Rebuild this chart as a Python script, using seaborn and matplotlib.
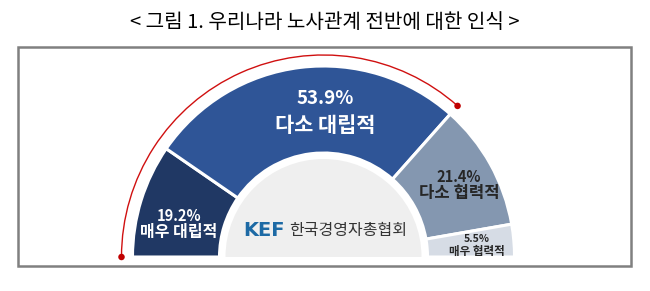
import numpy as np
import matplotlib
matplotlib.use('Agg')
import matplotlib.pyplot as plt
from matplotlib.patches import Wedge, Arc, Rectangle
import seaborn as sns

sns.set_theme(style='white')
plt.rcParams['font.family'] = ['Noto Sans CJK KR', 'DejaVu Sans']

# data
labels = ['매우 대립적', '다소 대립적', '다소 협력적', '매우 협력적']
shares = [19.2, 53.9, 21.4, 5.5]
colors = sns.color_palette(['#203864', '#2f5597', '#8497b0', '#d6dce5'])
title = '< 그림 1. 우리나라 노사관계 전반에 대한 인식 >'

# layout (pixel coords, y up)
W, H = 650, 291
cx, cy = 323.5, 34
r_out, r_in, r_disk, r_arc = 191, 104, 98, 202

fig = plt.figure(figsize=(W / 100, H / 100), dpi=100)
ax = fig.add_axes([0, 0, 1, 1])

# half donut: pad the pie with an invisible half
ax.pie(shares + [sum(shares)], radius=r_out, center=(cx, cy),
       startangle=180, counterclock=False, frame=True,
       colors=list(colors) + [(1, 1, 1, 0)],
       wedgeprops=dict(width=r_out - r_in, edgecolor='white', linewidth=2.2))
# hide the padding wedge edge
ax.patches[-1].set_edgecolor('none')

ax.add_patch(Wedge((cx, cy), r_disk, 0, 180, facecolor='#efefef', edgecolor='none'))

# red arc over the "conflict" share
conflict = shares[0] + shares[1]
end_ang = 180 - 180 * conflict / 100
ax.add_patch(Arc((cx, cy), 2 * r_arc, 2 * r_arc, theta1=end_ang, theta2=180,
                 color='#d01010', lw=1))
angs = np.radians([180, end_ang])
sns.scatterplot(x=cx + r_arc * np.cos(angs), y=cy + r_arc * np.sin(angs),
                color='#c00000', s=22, edgecolor='none', ax=ax, zorder=5)

# labels
def img(y):
    return H - y

ax.text(325, img(98), f'{shares[1]}%', color='white', fontsize=13.5, fontweight='bold',
        ha='center', va='center')
ax.text(325, img(125), labels[1], color='white', fontsize=15, fontweight='bold',
        ha='center', va='center')
ax.text(179, img(216), f'{shares[0]}%', color='white', fontsize=10.5, fontweight='bold',
        ha='center', va='center')
ax.text(179, img(232), labels[0], color='white', fontsize=11.5, fontweight='bold',
        ha='center', va='center')
ax.text(459, img(177), f'{shares[2]}%', color='#262626', fontsize=10.5, fontweight='bold',
        ha='center', va='center')
ax.text(459, img(193), labels[2], color='#262626', fontsize=12, fontweight='bold',
        ha='center', va='center')
ax.text(477, img(239), f'{shares[3]}%', color='#262626', fontsize=7.5, fontweight='bold',
        ha='center', va='center')
ax.text(477, img(251), labels[3], color='#262626', fontsize=8.3, fontweight='bold',
        ha='center', va='center')

# logo
ax.text(285, img(230), 'KEF', color='#1d6aa5', fontsize=14, fontweight='bold',
        ha='right', va='center', family=['DejaVu Sans'])
ax.text(289, img(230), '한국경영자총협회', color='#333333', fontsize=11.5,
        ha='left', va='center')

# frame and title
ax.add_patch(Rectangle((18, img(266)), 613, 219, fill=False, edgecolor='#808080', lw=1.8))
ax.text(W / 2, img(22), title, fontsize=14.5, color='black', ha='center', va='center')

ax.set_xlim(0, W)
ax.set_ylim(0, H)
ax.set_aspect('equal')
ax.axis('off')
fig.savefig('out.png', dpi=100)
